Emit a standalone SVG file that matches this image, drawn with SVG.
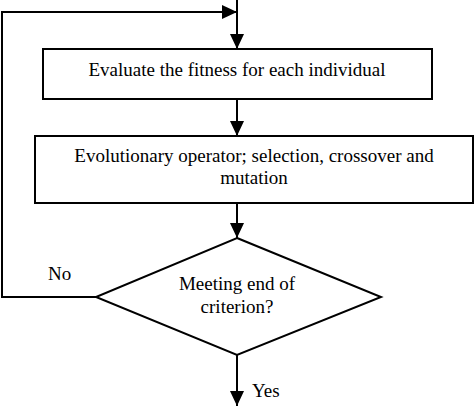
<svg xmlns="http://www.w3.org/2000/svg" width="474" height="406" viewBox="0 0 474 406">
<style>
.box{fill:#fff;stroke:#000;stroke-width:2}
.ln{fill:none;stroke:#000;stroke-width:2}
text{font-family:'Liberation Serif','Times New Roman','DejaVu Serif',serif;font-size:19px;fill:#000}
.t{text-anchor:middle}
</style>
<defs>
<marker id="ah" markerUnits="userSpaceOnUse" markerWidth="16" markerHeight="14" refX="15" refY="7" orient="auto">
<path d="M0,0 L15,7 L0,14 Z" fill="#000"/>
</marker>
</defs>
<rect width="474" height="406" fill="#fff"/>
<g id="connectors">
<path class="ln" d="M237,0 V49" marker-end="url(#ah)"/>
<path class="ln" d="M96,297 H2 V12 H237" marker-end="url(#ah)"/>
<path class="ln" d="M237,99 V136" marker-end="url(#ah)"/>
<path class="ln" d="M237,203 V238" marker-end="url(#ah)"/>
<path class="ln" d="M237,355 V406" marker-end="url(#ah)"/>
</g>
<g id="evaluate">
<rect class="box" x="43" y="49" width="389" height="50"/>
<text class="t" x="237" y="76" font-family="Liberation Serif, serif">Evaluate the fitness for each individual</text>
</g>
<g id="operator">
<rect class="box" x="35" y="136" width="438" height="67"/>
<text class="t" x="254" y="162" font-family="Liberation Serif, serif">Evolutionary operator; selection, crossover and</text>
<text class="t" x="254" y="184" font-family="Liberation Serif, serif">mutation</text>
</g>
<g id="decision">
<polygon class="box" points="237,238 381,297 237,355 96,297"/>
<text class="t" x="237" y="290" font-family="Liberation Serif, serif">Meeting end of</text>
<text class="t" x="237" y="313" font-family="Liberation Serif, serif">criterion?</text>
</g>
<text x="48" y="280" font-family="Liberation Serif, serif">No</text>
<text x="252" y="397" font-family="Liberation Serif, serif">Yes</text>
</svg>
